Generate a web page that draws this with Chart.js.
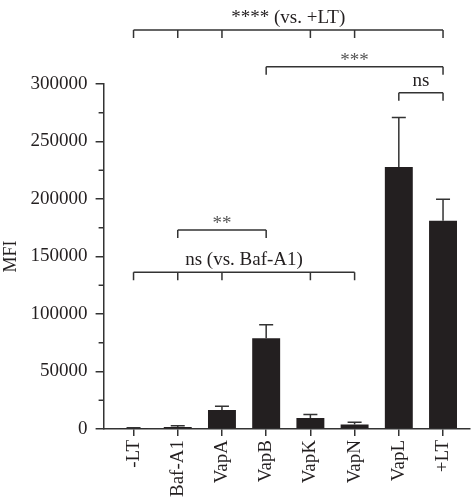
<!DOCTYPE html>
<html lang="en">
<head>
<meta charset="UTF-8">
<title>MFI</title>
<script src="https://cdn.jsdelivr.net/npm/chart.js"></script>
<style>
    html, body { margin: 0; padding: 0; background: #fff; }
    #wrap { width: 473px; height: 500px; }
</style>
</head>
<body>
<div id="wrap"><canvas id="mfiChart"></canvas></div>
<script>
// data
const categories = ['-LT', 'Baf-A1', 'VapA', 'VapB', 'VapK', 'VapN', 'VapL', '+LT'];
const meanMFI = [900, 1700, 16500, 79000, 9600, 4000, 227800, 181000];
const errMFI = [300, 1200, 3200, 11700, 3100, 1800, 43000, 18700];
const yTickValues = [0, 50000, 100000, 150000, 200000, 250000, 300000];

// significance brackets (category indices + level in MFI units)
const sigLabels = ['**** (vs. +LT)', '***', 'ns', '**', 'ns (vs. Baf-A1)'];
const sigFrom = [0, 3, 6, 1, 0];
const sigTo = [7, 7, 7, 3, 5];
const sigLevel = [347000, 315000, 292500, 173000, 136300];
const sigDrops = [[0, 1, 2, 4, 5, 7], [3, 7], [6, 7], [1, 3], [0, 1, 2, 4, 5]];

const ink = '#231f20';
const lineCol = '#333';
Chart.defaults.font.family = "'Liberation Serif', 'Times New Roman', serif";
Chart.defaults.color = ink;

// error bars (upper only) + minor y ticks + brackets
const extras = {
    id: 'extras',
    afterDatasetsDraw(chart) {
        const ctx = chart.ctx;
        const x = chart.scales.x, y = chart.scales.y;
        ctx.save();
        ctx.strokeStyle = lineCol;
        ctx.lineWidth = 1.5;
        // error bars
        meanMFI.forEach((m, i) => {
            const px = x.getPixelForValue(i);
            const y0 = y.getPixelForValue(m);
            const y1 = y.getPixelForValue(m + errMFI[i]);
            ctx.beginPath();
            ctx.moveTo(px, y0);
            ctx.lineTo(px, y1);
            ctx.moveTo(px - 7, y1);
            ctx.lineTo(px + 7, y1);
            ctx.stroke();
        });
        // minor ticks
        for (let v = 25000; v < 300000; v += 50000) {
            const py = y.getPixelForValue(v);
            ctx.beginPath();
            ctx.moveTo(chart.chartArea.left, py);
            ctx.lineTo(chart.chartArea.left - 5, py);
            ctx.stroke();
        }
        // brackets
        ctx.font = "19px 'Liberation Serif', serif";
        ctx.textAlign = 'center';
        ctx.textBaseline = 'alphabetic';
        sigLabels.forEach((txt, k) => {
            const by = y.getPixelForValue(sigLevel[k]);
            const xa = x.getPixelForValue(sigFrom[k]);
            const xb = x.getPixelForValue(sigTo[k]);
            ctx.beginPath();
            ctx.moveTo(xa, by);
            ctx.lineTo(xb, by);
            sigDrops[k].forEach(i => {
                const px = x.getPixelForValue(i);
                ctx.moveTo(px, by);
                ctx.lineTo(px, by + 8);
            });
            ctx.stroke();
            const starsOnly = /^\*+$/.test(txt);
            ctx.fillStyle = starsOnly ? '#555' : ink;
            ctx.fillText(txt, (xa + xb) / 2, starsOnly ? by - 1 : by - 7);
        });
        ctx.restore();
    }
};

new Chart(document.getElementById('mfiChart'), {
    type: 'bar',
    data: {
        datasets: [{
            data: meanMFI.map((v, i) => ({ x: i, y: v })),
            backgroundColor: ink,
            borderColor: ink,
            borderWidth: 0,
            categoryPercentage: 0.8,
            barPercentage: 0.79
        }]
    },
    options: {
        responsive: true,
        maintainAspectRatio: false,
        animation: false,
        layout: { padding: { top: 84, right: 3, bottom: -1, left: 0 } },
        plugins: { legend: { display: false }, tooltip: { enabled: false } },
        scales: {
            x: {
                type: 'linear',
                offset: false,
                min: -0.677,
                max: 7.61,
                afterBuildTicks: s => { s.ticks = categories.map((_, i) => ({ value: i })); },
                ticks: {
                    callback: v => categories[v],
                    minRotation: 90,
                    maxRotation: 90,
                    padding: 4,
                    font: { size: 19 }
                },
                grid: { offset: false, drawOnChartArea: false, drawTicks: true, tickLength: 7, color: lineCol, lineWidth: 1.5 },
                border: { display: true, color: lineCol, width: 1.5 }
            },
            y: {
                min: 0,
                max: 300000,
                afterBuildTicks: s => { s.ticks = yTickValues.map(v => ({ value: v })); },
                ticks: { padding: 8, font: { size: 19 }, callback: v => String(v) },
                title: { display: true, text: 'MFI', font: { size: 18 }, padding: { top: 0, bottom: 1 } },
                grid: { drawOnChartArea: false, drawTicks: true, tickLength: 8, color: lineCol, lineWidth: 1.5 },
                border: { display: true, color: lineCol, width: 1.5 }
            }
        }
    },
    plugins: [extras]
});
</script>
</body>
</html>
